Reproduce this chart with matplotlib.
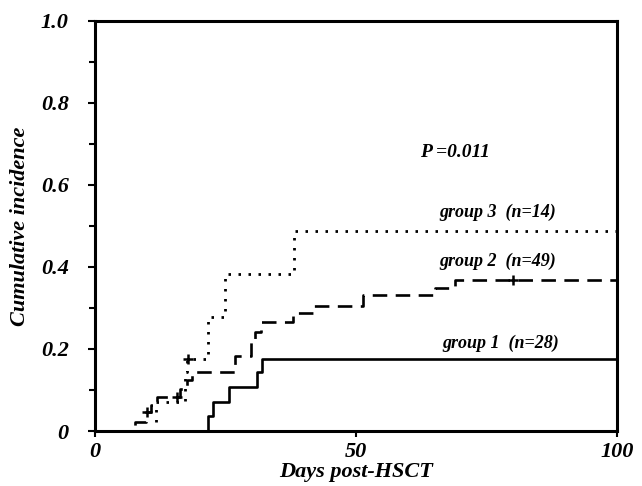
import matplotlib
matplotlib.use("Agg")
import matplotlib.pyplot as plt
from matplotlib.ticker import MultipleLocator, FixedLocator

# Data (days, cumulative incidence)
g1_days = [0, 21.6, 22.7, 25.7, 31.0, 32.0, 100]
g1_vals = [0, 0.036, 0.071, 0.107, 0.143, 0.176, 0.176]

g2_days = [0, 7.7, 9.7, 10.7, 11.8, 16.3, 17.6, 18.6, 26.8, 29.9, 30.7, 31.8, 37.9, 41.8, 51.3, 65.1, 69.0, 100]
g2_vals = [0, 0.022, 0.046, 0.064, 0.083, 0.103, 0.124, 0.144, 0.183, 0.225, 0.242, 0.267, 0.288, 0.306, 0.332, 0.350, 0.369, 0.369]
g2_cens_days = [9.9, 15.7, 80.0]
g2_cens_vals = [0.046, 0.083, 0.369]

g3_days = [0, 11.7, 17.2, 17.6, 21.6, 24.9, 38.2, 100]
g3_vals = [0, 0.071, 0.143, 0.176, 0.279, 0.384, 0.487, 0.487]
g3_cens_days = [17.8]
g3_cens_vals = [0.176]

labels = ["group 1", "group 2", "group 3"]
ns = ["(n=28)", "(n=49)", "(n=14)"]
label_pos = [(66.5, 0.213), (66, 0.413), (66, 0.533)]

yticks = [0, 0.2, 0.4, 0.6, 0.8, 1.0]
yticklabels = ["0", "0.2", "0.4", "0.6", "0.8", "1.0"]
xticks = [0, 50, 100]
xticklabels = ["0", "50", "100"]

plt.rcParams['font.family'] = ['Liberation Serif', 'DejaVu Serif']
fig = plt.figure(figsize=(6.42, 4.86), dpi=100)
ax = fig.add_axes([95/642, 55/486, (617-95)/642, (431-21)/486])

lw = 1.9
ax.plot(g1_days, g1_vals, drawstyle='steps-post', color='black', lw=lw, solid_capstyle='butt')
ax.plot(g2_days, g2_vals, drawstyle='steps-post', color='black', lw=lw,
        linestyle=(0, (5.5, 3.2)))
ax.plot(g3_days, g3_vals, drawstyle='steps-post', color='black', lw=2.0,
        linestyle=(0, (0.9, 2.7)))
ax.plot(g2_cens_days, g2_cens_vals, linestyle='none', marker='+', ms=7, mew=1.8, color='black')
ax.plot(g3_cens_days, g3_cens_vals, linestyle='none', marker='+', ms=7, mew=1.8, color='black')

for (x, y), lab, n in zip(label_pos, labels, ns):
    ax.text(x, y, lab + "  " + n, fontsize=13, fontweight='bold', style='italic',
            ha='left', va='center')

ax.text(69, 0.68, "P =0.011", fontsize=14, fontweight='bold', style='italic',
        ha='center', va='center')

ax.set_xlim(0, 100)
ax.set_ylim(0, 1.0)
ax.yaxis.set_major_locator(FixedLocator(yticks))
ax.set_yticklabels(yticklabels)
ax.yaxis.set_minor_locator(MultipleLocator(0.1))
ax.xaxis.set_major_locator(FixedLocator(xticks))
ax.set_xticklabels(xticklabels)

for lab in ax.get_xticklabels() + ax.get_yticklabels():
    lab.set_fontsize(16)
    lab.set_fontweight('bold')
    lab.set_style('italic')

ax.tick_params(axis='y', which='major', direction='out', length=5, width=1.5, pad=14)
ax.tick_params(axis='y', which='minor', direction='out', length=4, width=1.5)
ax.tick_params(axis='x', which='major', direction='out', length=4, width=1.5, pad=4)

for sp in ax.spines.values():
    sp.set_linewidth(2.2)

ax.set_xlabel("Days post-HSCT", fontsize=16, fontweight='bold', style='italic', labelpad=0)
ax.set_ylabel("Cumulative incidence", fontsize=16, fontweight='bold', style='italic', labelpad=8)

fig.savefig("out.png", dpi=100)
